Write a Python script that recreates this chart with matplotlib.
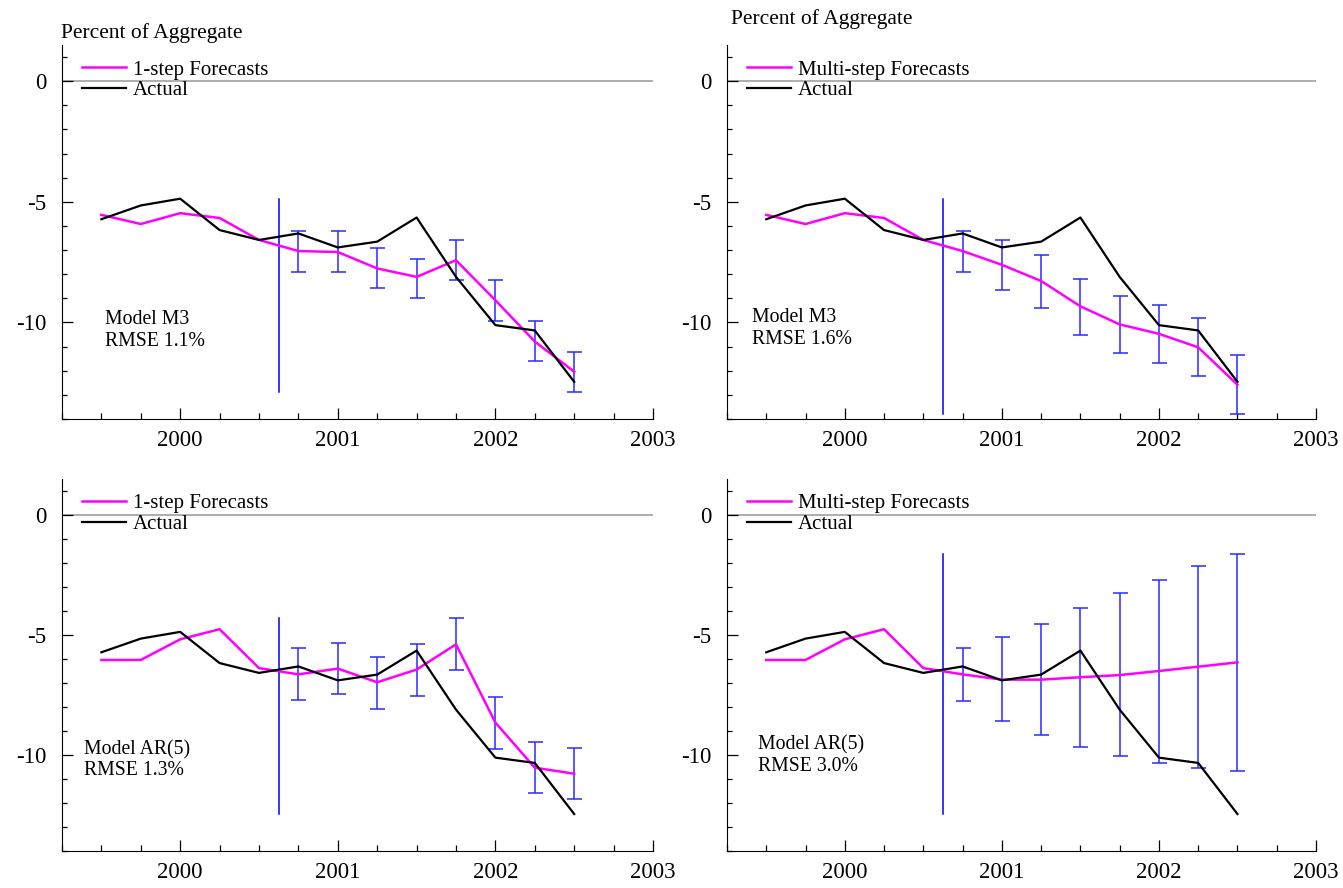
# Forecast comparison panels: M3 and AR(5), 1-step vs multi-step
import matplotlib
matplotlib.use('Agg')
import matplotlib.pyplot as plt
from matplotlib.ticker import MultipleLocator

plt.rcParams['font.family'] = ['Liberation Serif', 'DejaVu Serif']
plt.rcParams['axes.unicode_minus'] = False

dates = [1999.5, 1999.75, 2000.0, 2000.25, 2000.5, 2000.75, 2001.0,
         2001.25, 2001.5, 2001.75, 2002.0, 2002.25, 2002.5]
fc_dates = [2000.75, 2001.0, 2001.25, 2001.5, 2001.75, 2002.0, 2002.25, 2002.5]
origin = 2000.625

actual = [-5.72, -5.15, -4.87, -6.17, -6.58, -6.31, -6.89, -6.65, -5.65,
          -8.11, -10.11, -10.33, -12.46]

# Model M3, 1-step
m3_one = [-5.54, -5.92, -5.47, -5.67, -6.58, -7.04, -7.08, -7.76, -8.11,
          -7.42, -9.08, -10.79, -12.04]
m3_one_hi = [-6.22, -6.22, -6.93, -7.36, -6.58, -8.24, -9.94, -11.24]
m3_one_lo = [-7.89, -7.89, -8.57, -8.99, -8.25, -9.92, -11.60, -12.88]

# Model M3, multi-step
m3_multi = [-5.54, -5.92, -5.47, -5.67, -6.58, -7.04, -7.61, -8.28, -9.33,
            -10.08, -10.47, -11.03, -12.58]
m3_multi_hi = [-6.22, -6.60, -7.19, -8.18, -8.89, -9.28, -9.82, -11.35]
m3_multi_lo = [-7.89, -8.64, -9.40, -10.50, -11.26, -11.67, -12.22, -13.78]

# Model AR(5), 1-step
ar_one = [-6.04, -6.04, -5.18, -4.76, -6.38, -6.64, -6.40, -6.97, -6.44,
          -5.39, -8.65, -10.53, -10.78]
ar_one_hi = [-5.56, -5.32, -5.90, -5.36, -4.31, -7.60, -9.44, -9.69]
ar_one_lo = [-7.72, -7.47, -8.07, -7.54, -6.47, -9.76, -11.60, -11.85]

# Model AR(5), multi-step
ar_multi = [-6.04, -6.04, -5.18, -4.76, -6.38, -6.64, -6.86, -6.86, -6.76,
            -6.67, -6.50, -6.32, -6.14]
ar_multi_hi = [-5.54, -5.07, -4.53, -3.89, -3.26, -2.69, -2.14, -1.61]
ar_multi_lo = [-7.74, -8.60, -9.18, -9.68, -10.06, -10.35, -10.54, -10.65]

panels = [
    ([62, 419, 591, 374], m3_one, m3_one_lo, m3_one_hi, '1-step Forecasts',
     'Model M3\nRMSE 1.1%', (1999.52, -9.5)),
    ([727, 419, 589, 374], m3_multi, m3_multi_lo, m3_multi_hi, 'Multi-step Forecasts',
     'Model M3\nRMSE 1.6%', (1999.41, -9.42)),
    ([62, 851, 591, 372], ar_one, ar_one_lo, ar_one_hi, '1-step Forecasts',
     'Model AR(5)\nRMSE 1.3%', (1999.39, -9.38)),
    ([727, 851, 589, 372], ar_multi, ar_multi_lo, ar_multi_hi, 'Multi-step Forecasts',
     'Model AR(5)\nRMSE 3.0%', (1999.45, -9.18)),
]

W, H = 1343, 888
fig = plt.figure(figsize=(W / 100, H / 100), dpi=100)

for box, fc, lo, hi, lab, txt, tpos in panels:
    x0, ybot, w, h = box
    ax = fig.add_axes([x0 / W, 1 - ybot / H, w / W, h / H])
    ax.axhline(0, color='#a0a0a0', lw=1.2, zorder=1)

    # forecast origin line spans the data range of the panel
    allv = actual + fc + lo + hi
    ax.plot([origin, origin], [min(allv), max(allv)], color='blue', lw=1.1, zorder=2)

    mid = [(a + b) / 2 for a, b in zip(lo, hi)]
    half = [(b - a) / 2 for a, b in zip(lo, hi)]
    ax.errorbar(fc_dates, mid, yerr=half, fmt='none', ecolor='#2a2aff',
                elinewidth=1.1, capsize=5.4, capthick=1.1, zorder=2)

    ax.plot(dates, fc, color='#ff00ff', lw=1.8, label=lab, zorder=3)
    ax.plot(dates, actual, color='black', lw=1.6, label='Actual', zorder=4)

    ax.set_xlim(1999.25, 2003)
    ax.set_ylim(-14, 1.5)
    ax.set_xticks([2000, 2001, 2002, 2003])
    ax.xaxis.set_minor_locator(MultipleLocator(0.25))
    ax.set_yticks([0, -5, -10])
    ax.yaxis.set_minor_locator(MultipleLocator(1))
    for s in ['top', 'right']:
        ax.spines[s].set_visible(False)
    ax.tick_params(axis='x', which='major', direction='in', length=8, width=0.9,
                   labelsize=16.5, pad=8)
    ax.tick_params(axis='x', which='minor', direction='in', length=4, width=0.9)
    ax.tick_params(axis='y', which='major', direction='in', length=8, width=0.9,
                   labelsize=16.5, pad=11)
    ax.tick_params(axis='y', which='minor', direction='in', length=3.6, width=0.9)

    leg = ax.legend(loc='upper left', bbox_to_anchor=(0.034, 0.96), frameon=False,
                    fontsize=15, handlelength=2.1, handletextpad=0.33,
                    labelspacing=0.06, borderpad=0, borderaxespad=0)
    ax.text(tpos[0], tpos[1], txt, fontsize=14.2, va='top', ha='left',
            linespacing=1.15)

fig.text(61 / W, 1 - 33 / H, 'Percent of Aggregate', fontsize=15.5, va='center')
fig.text(731 / W, 1 - 19 / H, 'Percent of Aggregate', fontsize=15.5, va='center')

fig.savefig('out.png', dpi=100)
